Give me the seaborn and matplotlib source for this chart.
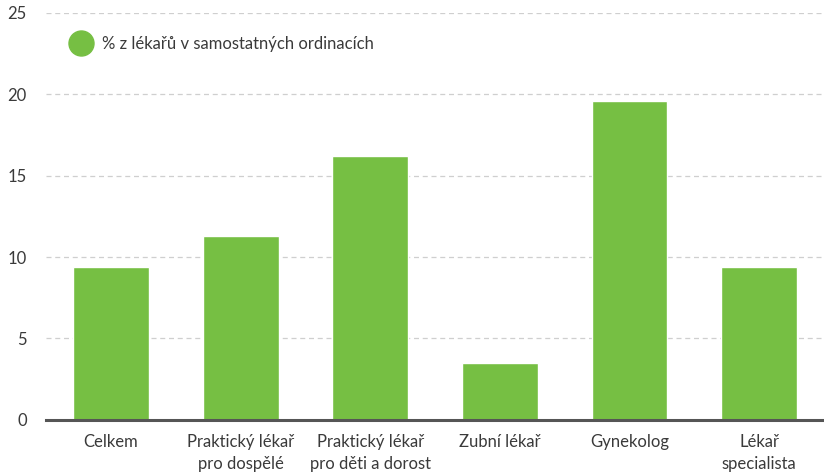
import numpy as np
import pandas as pd
import matplotlib
matplotlib.use('Agg')
import matplotlib.pyplot as plt
from matplotlib.lines import Line2D
import seaborn as sns

kategorie = ['Celkem', 'Praktický lékař\npro dospělé', 'Praktický lékař\npro děti a dorost',
             'Zubní lékař', 'Gynekolog', 'Lékař\nspecialista']
podil = [9.4, 11.3, 16.2, 3.5, 19.6, 9.4]
yticks = [0, 5, 10, 15, 20, 25]
nazev_rady = '% z lékařů v samostatných ordinacích'

zelena = '#76bf43'
text_barva = '#3a3a3a'

sns.set_style('white')
plt.rcParams['font.family'] = ['Lato', 'DejaVu Sans']

df = pd.DataFrame({'kategorie': kategorie, 'podil': podil})

fig = plt.figure(figsize=(8.24, 4.75), dpi=100)
ax = fig.add_axes([0.056, 0.116, 0.944, 0.857])

sns.barplot(data=df, x='kategorie', y='podil', color=zelena, width=0.585,
            saturation=1, ax=ax, zorder=3)

ax.set_ylim(0, 25)
ax.set_xlim(-0.5, 5.5)
ax.set_yticks(yticks)
ax.yaxis.grid(True, color='#cfcfcf', linestyle=(0, (4, 3)), linewidth=0.9, zorder=0)
ax.set_axisbelow(True)
for s in ['top', 'right', 'left']:
    ax.spines[s].set_visible(False)
ax.spines['bottom'].set_color('#555555')
ax.spines['bottom'].set_linewidth(2.2)
ax.spines['bottom'].set_zorder(4)
ax.tick_params(axis='both', length=0, labelsize=12, colors=text_barva)
ax.tick_params(axis='y', pad=14)
ax.tick_params(axis='x', pad=10)
for t in ax.get_xticklabels():
    t.set_linespacing(1.45)
ax.set_xlabel('')
ax.set_ylabel('')

handle = Line2D([], [], marker='o', linestyle='', markersize=18,
                markerfacecolor=zelena, markeredgecolor=zelena)
leg = ax.legend([handle], [nazev_rady], loc='upper left', bbox_to_anchor=(0.015, 0.96),
                frameon=False, fontsize=12, handletextpad=0.25, borderaxespad=0)
for t in leg.get_texts():
    t.set_color(text_barva)

fig.savefig('out.png', dpi=100)
